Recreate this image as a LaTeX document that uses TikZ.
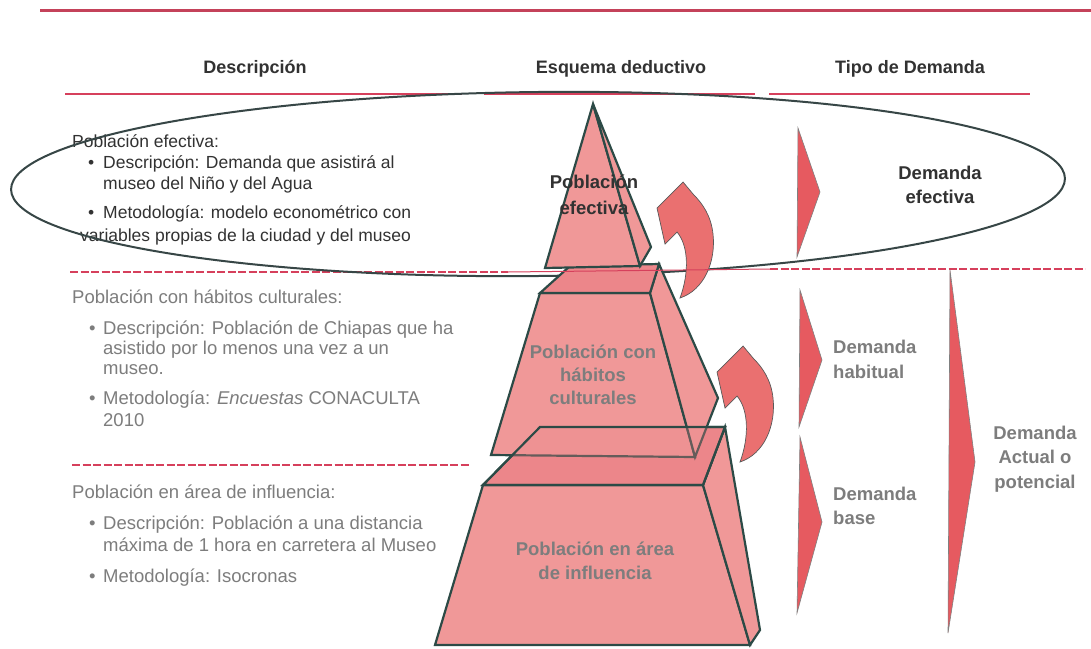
\documentclass[tikz,border=0pt]{standalone}
\usepackage{fontspec}
\setmainfont{Liberation Sans}
\definecolor{edgeteal}{RGB}{44,74,70}
\definecolor{facepink}{RGB}{240,152,152}
\definecolor{toppink}{RGB}{236,134,138}
\definecolor{arrowred}{RGB}{234,112,112}
\definecolor{chevred}{RGB}{230,90,96}
\definecolor{linered}{RGB}{214,64,92}
\definecolor{topline}{RGB}{196,66,90}
\definecolor{darktext}{RGB}{50,50,50}
\definecolor{softtext}{RGB}{125,125,125}
\definecolor{ringgray}{RGB}{55,70,70}
\begin{document}
\begin{tikzpicture}[x=1pt,y=-1pt,
  face/.style={fill=facepink,draw=edgeteal,line width=2.2pt},
  topface/.style={face,fill=toppink},
  chevron/.style={fill=chevred,draw=gray,line width=0.6pt},
  bendarrow/.style={fill=arrowred,draw=gray!70!black,line width=0.7pt},
  redline/.style={draw=linered,line width=2.6pt},
  redgap/.style={redline,dash pattern=on 8pt off 2.5pt},
  hdr/.style={font=\fontsize{18}{22}\selectfont\bfseries,text=darktext,anchor=base,inner sep=0pt},
  lbl/.style={font=\fontsize{18.5}{22}\selectfont\bfseries,anchor=base,inner sep=0pt},
  txt/.style={font=\fontsize{17.5}{21}\selectfont,anchor=base west,inner sep=0pt},
  soft/.style={txt,font=\fontsize{18.5}{21}\selectfont,text=softtext}]
  \useasboundingbox (0,0) rectangle (1091,648);
  \fill[white] (0,0) rectangle (1091,648);

  % rules
  \draw[line width=3pt,draw=topline] (40,10) -- (1091,10);
  \draw[redline] (65,94) -- (462,94);
  \draw[redline] (484,94) -- (755,94);
  \draw[redline] (769,94) -- (1030,94);
  \draw[redgap] (70,272) -- (508,272);
  \draw[redgap] (770,269) -- (1085,269);
  \draw[redgap] (72,465) -- (470,465);

  % column headers
  \node[hdr] (hdesc) at (255,73) {Descripción};
  \node[hdr] (hesq) at (621,73) {Esquema deductivo};
  \node[hdr] (htipo) at (910,73) {Tipo de Demanda};

  % left column
  \node[txt,text=darktext] (ef0) at (72,147) {Población efectiva:};
  \node[txt,text=darktext] (efb1) at (88,168) {\textbullet};
  \node[txt,text=darktext] (ef1) at (103,168) {Descripción: Demanda que asistirá al};
  \node[txt,text=darktext] (ef2) at (103,189) {museo del Niño y del Agua};
  \node[txt,text=darktext] (efb2) at (88,218) {\textbullet};
  \node[txt,text=darktext] (ef3) at (103,218) {Metodología: modelo econométrico con};
  \node[txt,text=darktext] (ef4) at (80,241) {variables propias de la ciudad y del museo};

  \node[soft] (hc0) at (72,303) {Población con hábitos culturales:};
  \node[soft] (hcb1) at (89,334) {\textbullet};
  \node[soft] (hc1) at (103,334) {Descripción: Población de Chiapas que ha};
  \node[soft] (hc2) at (103,354) {asistido por lo menos una vez a un};
  \node[soft] (hc3) at (103,374) {museo.};
  \node[soft] (hcb2) at (89,404) {\textbullet};
  \node[soft] (hc4) at (103,404) {Metodología: \textit{Encuestas} CONACULTA};
  \node[soft] (hc5) at (103,426) {2010};

  \node[soft] (ai0) at (72,498) {Población en área de influencia:};
  \node[soft] (aib1) at (89,529) {\textbullet};
  \node[soft] (ai1) at (103,529) {Descripción: Población a una distancia};
  \node[soft] (ai2) at (103,551) {máxima de 1 hora en carretera al Museo};
  \node[soft] (aib2) at (89,582) {\textbullet};
  \node[soft] (ai3) at (103,582) {Metodología: Isocronas};

  % ring round the first level
  \draw[draw=ringgray,line width=2pt,rotate around={0.6:(538,184)}]
    (538,184) ellipse [x radius=527pt, y radius=92pt];

  % bent arrows
  \foreach \dx/\dy in {0/0,60/164}
    \filldraw[bendarrow,shift={(\dx,\dy)}] (683,182) -- (657,208) -- (665,244) -- (677,232)
      .. controls (689,246) and (689,274) .. (680,298)
      .. controls (704,290) and (716,262) .. (713,234)
      .. controls (711,216) and (703,204) .. (693,194) -- cycle;

  % base level
  \filldraw[face] (483,485) -- (703,485) -- (750,645) -- (435,645) -- cycle;
  \filldraw[face] (703,485) -- (725,427) -- (760,630) -- (750,645) -- cycle;
  \filldraw[topface] (540,427) -- (725,427) -- (703,485) -- (483,485) -- cycle;
  % middle level
  \filldraw[face] (540,293) -- (650,293) -- (695,457) -- (491,455) -- cycle;
  \filldraw[face] (650,293) -- (659,264) -- (718,398) -- (695,457) -- cycle;
  \filldraw[topface] (570,266) -- (659,264) -- (650,293) -- (540,293) -- cycle;
  % base top seen through the middle level
  \filldraw[topface,fill opacity=0.3] (540,427) -- (725,427) -- (703,485) -- (483,485) -- cycle;
  % top level
  \filldraw[face] (593,104) -- (640,266) -- (545,268) -- cycle;
  \filldraw[face] (593,104) -- (651,247) -- (640,266) -- cycle;

  \draw[draw=linered,line width=1pt] (508,272) -- (770,269);

  \node[lbl,text=darktext] (pe1) at (594,188) {Población};
  \node[lbl,text=darktext] (pe2) at (594,214) {efectiva};
  \node[lbl,text=softtext] (ph1) at (593,358) {Población con};
  \node[lbl,text=softtext] (ph2) at (593,381) {hábitos};
  \node[lbl,text=softtext] (ph3) at (593,404) {culturales};
  \node[lbl,text=softtext] (pa1) at (595,555) {Población en área};
  \node[lbl,text=softtext] (pa2) at (595,579) {de influencia};

  % demand chevrons
  \filldraw[chevron] (798,128) -- (820,192) -- (797,257) -- cycle;
  \filldraw[chevron] (800,290) -- (822,360) -- (799,427) -- cycle;
  \filldraw[chevron] (800,437) -- (822,522) -- (797,613) -- cycle;
  \filldraw[chevron] (950,270) -- (975,462) -- (948,633) -- cycle;

  \node[lbl,text=darktext] (de1) at (940,179) {Demanda};
  \node[lbl,text=darktext] (de2) at (940,203) {efectiva};
  \node[lbl,text=softtext,anchor=base west] (dh1) at (833,353) {Demanda};
  \node[lbl,text=softtext,anchor=base west] (dh2) at (833,378) {habitual};
  \node[lbl,text=softtext,anchor=base west] (db1) at (833,500) {Demanda};
  \node[lbl,text=softtext,anchor=base west] (db2) at (833,524) {base};
  \node[lbl,text=softtext] (dp1) at (1035,439) {Demanda};
  \node[lbl,text=softtext] (dp2) at (1035,463) {Actual o};
  \node[lbl,text=softtext] (dp3) at (1035,488) {potencial};
\end{tikzpicture}
\end{document}
